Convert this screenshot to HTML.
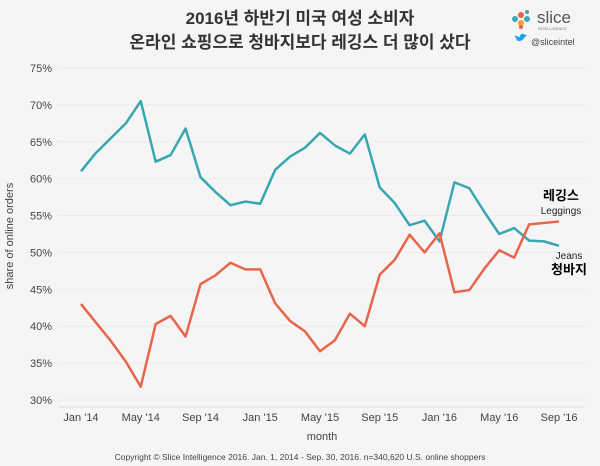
<!DOCTYPE html>
<html><head><meta charset="utf-8">
<style>
body{margin:0;background:#f5f5f5;width:600px;height:466px;overflow:hidden;font-family:"Liberation Sans","Noto Sans CJK KR",sans-serif;}
svg{display:block}
</style></head>
<body>
<svg width="600" height="466">
<rect x="0" y="0" width="600" height="466" fill="#f5f5f5"/>
<text x="300" y="24" text-anchor="middle" font-size="17" font-weight="bold" fill="#333" font-family="Liberation Sans,Noto Sans CJK KR,sans-serif">2016년 하반기 미국 여성 소비자</text>
<text x="300" y="48" text-anchor="middle" font-size="17" font-weight="bold" fill="#333" font-family="Liberation Sans,Noto Sans CJK KR,sans-serif">온라인 쇼핑으로 청바지보다 레깅스 더 많이 샀다</text>
<g>
<circle cx="521" cy="15" r="3" fill="#e8604c"/><circle cx="527" cy="19" r="3" fill="#3aa8b5"/><circle cx="521" cy="23" r="3" fill="#f0a030"/><circle cx="515" cy="19" r="3" fill="#3aa8b5"/><circle cx="527" cy="12" r="2" fill="#3aa8b5"/><circle cx="521" cy="27" r="2" fill="#e8604c"/>
<text x="537" y="23" font-size="17" fill="#555">slice</text>
<text x="538" y="30" font-size="4" fill="#777">INTELLIGENCE</text>
<text x="531" y="45" font-size="9" fill="#444">@sliceintel</text>
<path d="M516 40 q5 3 9 -3 q1 -1 2 -2 q-3 0 -3 -1 q-4 -1 -4 3 q-3 0 -5 -2 q0 3 2 4 q-1 1 -1 1z" fill="#1da1f2"/>
</g>
<g id="grid"></g>
<g id="yticks"></g>
<g id="xticks"></g>
<line x1="58" y1="407" x2="585" y2="407" stroke="#ddd" stroke-width="1"/>
<text x="13" y="236" transform="rotate(-90 13 236)" text-anchor="middle" font-size="11" fill="#444">share of online orders</text>
<text x="322" y="440" text-anchor="middle" font-size="11" fill="#444">month</text>
<g id="series"></g>
<text x="561" y="200" text-anchor="middle" font-size="13" font-weight="bold" fill="#000">레깅스</text>
<text x="561" y="214" text-anchor="middle" font-size="10" fill="#222">Leggings</text>
<text x="569" y="259" text-anchor="middle" font-size="10" fill="#222">Jeans</text>
<text x="569" y="274" text-anchor="middle" font-size="13" font-weight="bold" fill="#000">청바지</text>
<text x="300" y="460" text-anchor="middle" font-size="8.5" fill="#444">Copyright © Slice Intelligence 2016. Jan. 1, 2014 - Sep. 30, 2016. n=340,620 U.S. online shoppers</text>
</svg>
<script>
const jeans=[61,63.5,65.5,67.5,70.5,62.3,63.2,66.8,60.2,58.2,56.4,56.9,56.6,61.2,63,64.2,66.2,64.5,63.4,66,58.8,56.7,53.7,54.3,51.5,59.5,58.7,55.5,52.5,53.3,51.6,51.5,50.9];
const leggings=[43,40.5,38,35.2,31.8,40.3,41.4,38.6,45.7,46.9,48.6,47.7,47.7,43.1,40.7,39.3,36.6,38.1,41.7,40,47,49,52.4,50,52.6,44.6,44.9,47.8,50.3,49.3,53.8,54,54.2];
const yTicks=[30,35,40,45,50,55,60,65,70,75];
const xLabels=["Jan '14","May '14","Sep '14","Jan '15","May '15","Sep '15","Jan '16","May '16","Sep '16"];
const xLabelIdx=[0,4,8,12,16,20,24,28,32];
const NS="http://www.w3.org/2000/svg";
const X=i=>81+i*(559-81)/32;
const Y=v=>400-(v-30)*(400-68)/45;
function mk(t,a,p){const e=document.createElementNS(NS,t);for(const k in a)e.setAttribute(k,a[k]);document.getElementById(p).appendChild(e);return e;}
yTicks.forEach(v=>{
 const l=mk('line',{x1:58,x2:585,y1:Y(v),y2:Y(v),stroke:'#ececec','stroke-width':1},'grid');
 
 
 const t=mk('text',{x:52,y:Y(v)+4,'text-anchor':'end','font-size':11,fill:'#444'},'yticks');
 t.textContent=v+'%';
 
 
});
xLabels.forEach((s,k)=>{
 const t=mk('text',{x:X(xLabelIdx[k]),y:421,'text-anchor':'middle','font-size':11,fill:'#444'},'xticks');
 t.textContent=s;
 
 
});
function line(d,c,n){
 const p=mk('polyline',{points:d.map((v,i)=>X(i)+','+Y(v)).join(' '),fill:'none',stroke:c,'stroke-width':2.5,'stroke-linejoin':'round'},'series');
 
 
}
line(jeans,'#38a7b2','jeans-line');
line(leggings,'#e8654a','leggings-line');
</script>
</body></html>
